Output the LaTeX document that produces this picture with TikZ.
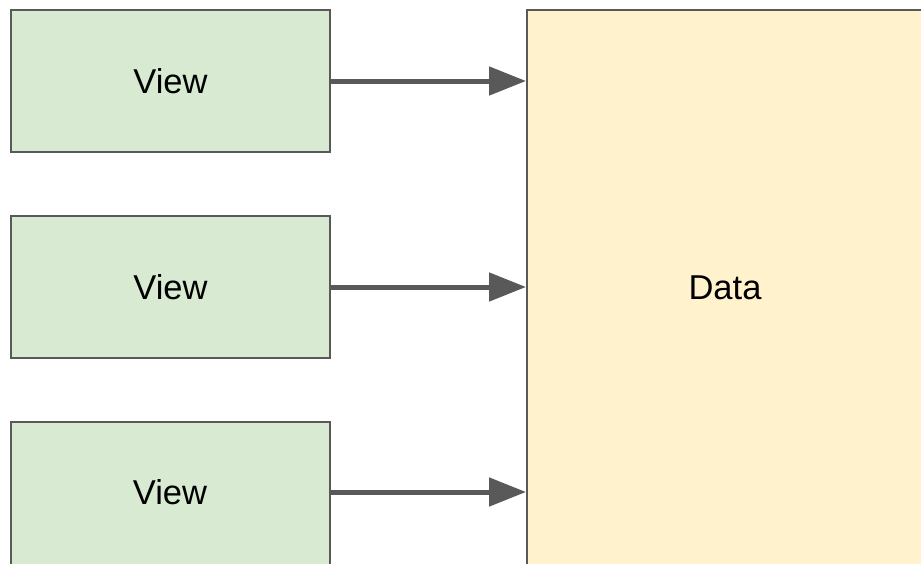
\documentclass[tikz,border=0pt]{standalone}
\usepackage{fontspec}
\setmainfont{Liberation Sans}
\usetikzlibrary{arrows.meta}
\definecolor{viewfill}{HTML}{D9EAD3}
\definecolor{datafill}{HTML}{FFF2CC}
\definecolor{edge}{HTML}{595959}
\begin{document}
\begin{tikzpicture}[x=1pt,y=1pt,
  viewbox/.style={draw=edge,line width=2pt,fill=viewfill,minimum width=319pt,minimum height=142pt,inner sep=0pt,font=\fontsize{34.5}{40}\selectfont,anchor=north west},
  databox/.style={draw=edge,line width=2pt,fill=datafill,minimum width=400pt,minimum height=560pt,inner sep=0pt,anchor=north west},
  flow/.style={draw=edge,line width=5pt,-{Triangle[length=37pt,width=28pt]}}]
\useasboundingbox (0,0) rectangle (921,-563);
\clip (0,0) rectangle (921,-563);
\node[viewbox] (v1) at (10,-9) {View};
\node[viewbox] (v2) at (10,-215) {View};
\node[viewbox,minimum height=150pt,text depth=0pt] (v3) at (10,-421) {};
\node[font=\fontsize{34.5}{40}\selectfont] (t3) at (170,-492) {View};
\node[databox] (d) at (526,-9) {};
\node[font=\fontsize{34.5}{40}\selectfont] (dt) at (725,-288) {Data};
\draw[flow] (v1.east) -- (d.west |- v1.east);
\draw[flow] (v2.east) -- (d.west |- v2.east);
\draw[flow] (v3.east |- t3) -- (d.west |- t3);
\end{tikzpicture}
\end{document}
